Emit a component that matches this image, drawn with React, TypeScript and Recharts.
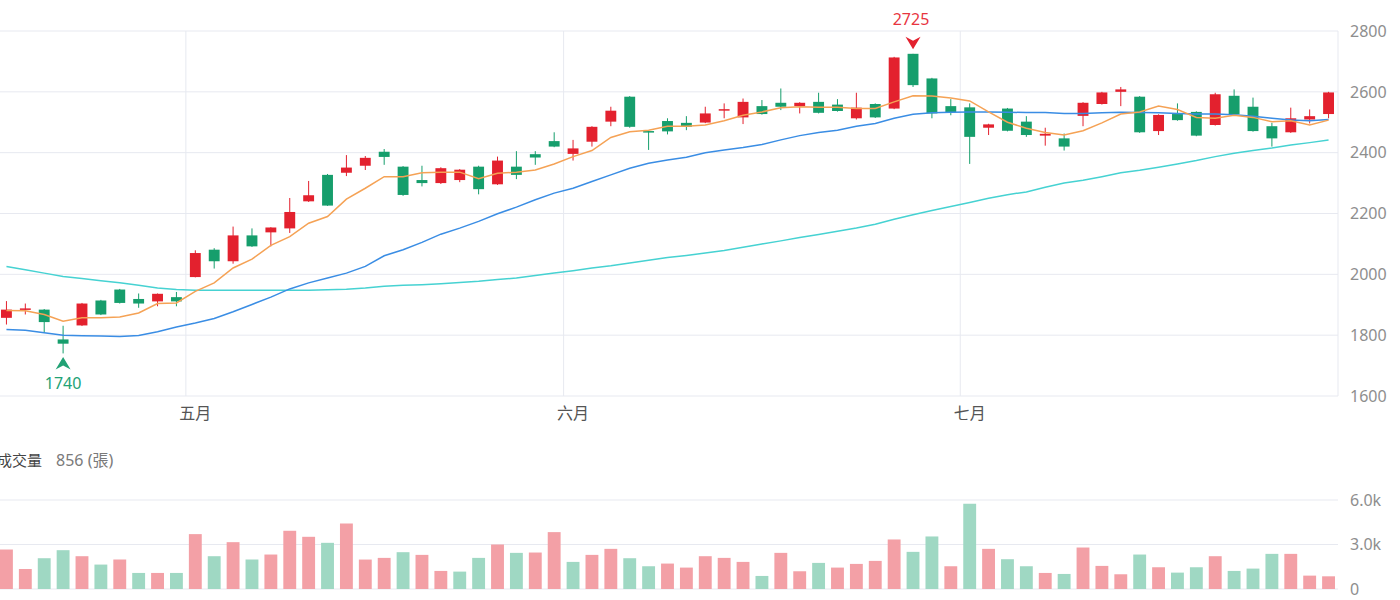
import React from 'react';
import {
  ComposedChart,
  Bar,
  Line,
  XAxis,
  YAxis,
  CartesianGrid,
  ReferenceLine,
  ReferenceDot,
  Cell,
} from 'recharts';

// Daily OHLC (TWD), one entry per trading day
const opens = [
  1857, 1885, 1884, 1786, 1832, 1914, 1950, 1919, 1911, 1925,
  1991, 2081, 2043, 2128, 2138, 2151, 2240, 2327, 2334, 2357,
  2403, 2354, 2310, 2300, 2310, 2354, 2296, 2354, 2395, 2438,
  2396, 2436, 2502, 2584, 2471, 2504, 2498, 2499, 2540, 2516,
  2553, 2564, 2553, 2567, 2558, 2513, 2560, 2545, 2725, 2644,
  2553, 2549, 2482, 2545, 2502, 2456, 2447, 2521, 2560, 2600,
  2584, 2471, 2527, 2534, 2491, 2587, 2551, 2487, 2467, 2509,
  2527,
];
const highs = [
  1912, 1904, 1886, 1831, 1906, 1916, 1952, 1937, 1937, 1942,
  2079, 2086, 2157, 2151, 2155, 2251, 2307, 2330, 2392, 2389,
  2412, 2356, 2357, 2352, 2346, 2357, 2387, 2405, 2405, 2467,
  2442, 2487, 2551, 2586, 2473, 2513, 2520, 2551, 2562, 2578,
  2573, 2611, 2566, 2597, 2576, 2597, 2562, 2715, 2725, 2646,
  2576, 2562, 2495, 2547, 2520, 2482, 2463, 2566, 2600, 2616,
  2586, 2526, 2562, 2536, 2597, 2608, 2581, 2498, 2548, 2542,
  2600,
];
const lows = [
  1835, 1868, 1810, 1740, 1830, 1866, 1904, 1890, 1895, 1895,
  1990, 2019, 2035, 2090, 2092, 2136, 2238, 2225, 2323, 2343,
  2360, 2258, 2289, 2297, 2303, 2263, 2294, 2313, 2360, 2418,
  2374, 2420, 2487, 2482, 2409, 2460, 2474, 2497, 2513, 2494,
  2525, 2540, 2529, 2529, 2535, 2509, 2514, 2543, 2616, 2513,
  2523, 2363, 2458, 2470, 2452, 2423, 2407, 2487, 2558, 2553,
  2465, 2458, 2505, 2454, 2489, 2524, 2469, 2420, 2465, 2496,
  2513,
];
const closes = [
  1884, 1888, 1843, 1772, 1904, 1868, 1906, 1904, 1936, 1911,
  2070, 2043, 2128, 2092, 2154, 2205, 2260, 2226, 2351, 2383,
  2386, 2261, 2300, 2349, 2344, 2280, 2374, 2327, 2384, 2420,
  2414, 2485, 2538, 2485, 2466, 2470, 2485, 2529, 2543, 2567,
  2527, 2551, 2564, 2531, 2537, 2548, 2516, 2713, 2622, 2529,
  2533, 2452, 2493, 2472, 2458, 2462, 2420, 2564, 2598, 2608,
  2467, 2524, 2507, 2456, 2592, 2526, 2471, 2447, 2513, 2520,
  2598,
];

// Moving averages
const ma5 = [
  1881, 1880, 1868, 1846, 1857, 1857, 1860, 1873, 1904, 1906,
  1944, 1972, 2021, 2050, 2095, 2124, 2168, 2190, 2247, 2283,
  2321, 2321, 2334, 2336, 2336, 2314, 2332, 2336, 2343, 2363,
  2387, 2407, 2450, 2469, 2474, 2487, 2487, 2491, 2505, 2523,
  2534, 2548, 2551, 2549, 2549, 2545, 2545, 2567, 2587, 2586,
  2580, 2570, 2534, 2500, 2480, 2466, 2458, 2472, 2498, 2527,
  2534, 2553, 2542, 2516, 2513, 2523, 2516, 2502, 2505, 2491,
  2507,
];
const ma20 = [
  1819, 1816, 1808, 1800, 1798, 1797, 1796, 1799, 1811, 1827,
  1840, 1855, 1877, 1901, 1925, 1952, 1972, 1988, 2004, 2026,
  2061, 2081, 2105, 2132, 2152, 2174, 2199, 2221, 2245, 2267,
  2283, 2305, 2327, 2349, 2365, 2376, 2385, 2400, 2409, 2417,
  2427, 2442, 2456, 2466, 2474, 2487, 2496, 2513, 2526, 2531,
  2533, 2534, 2534, 2533, 2532, 2532, 2529, 2529, 2531, 2533,
  2532, 2531, 2529, 2527, 2527, 2525, 2520, 2513, 2507, 2505,
  2509,
];
const ma60 = [
  2026, 2015, 2004, 1993, 1986, 1979, 1972, 1964, 1955, 1950,
  1948, 1948, 1948, 1948, 1948, 1948, 1948, 1949, 1951, 1955,
  1961, 1964, 1966, 1969, 1973, 1977, 1983, 1988, 1996, 2004,
  2012, 2021, 2028, 2037, 2046, 2055, 2062, 2070, 2078, 2089,
  2100, 2110, 2121, 2131, 2142, 2152, 2165, 2181, 2196, 2210,
  2223, 2236, 2250, 2262, 2271, 2286, 2300, 2309, 2321, 2334,
  2342, 2352, 2363, 2374, 2387, 2398, 2407, 2415, 2425, 2433,
  2442,
];

// Daily volume (張) and its colour direction (u = up day, d = down day)
const volumes = [
  2662, 1354, 2075, 2617, 2211, 1647, 1985, 1083, 1083, 1083,
  3700, 2211, 3158, 1985, 2324, 3925, 3519, 3113, 4422, 1985,
  2098, 2482, 2301, 1218, 1173, 2098, 3000, 2436, 2459, 3835,
  1827, 2301, 2707, 2075, 1534, 1715, 1444, 2211, 2098, 1827,
  880, 2436, 1196, 1760, 1444, 1692, 1895, 3339, 2504, 3542,
  1534, 5753, 2707, 2008, 1534, 1083, 1015, 2797, 1557, 993,
  2324, 1466, 1105, 1466, 2211, 1218, 1376, 2369, 2369, 902,
  856,
];
const volumeDir = [
  'u', 'u', 'd', 'd', 'u', 'd', 'u', 'd', 'u', 'd',
  'u', 'd', 'u', 'd', 'u', 'u', 'u', 'd', 'u', 'u',
  'u', 'd', 'u', 'u', 'd', 'd', 'u', 'd', 'u', 'u',
  'd', 'u', 'u', 'd', 'd', 'u', 'u', 'u', 'u', 'u',
  'd', 'u', 'u', 'd', 'u', 'u', 'u', 'u', 'd', 'd',
  'u', 'd', 'u', 'd', 'd', 'u', 'd', 'u', 'u', 'u',
  'd', 'u', 'd', 'd', 'u', 'd', 'd', 'd', 'u', 'u',
  'u',
];

// First trading day of each month and its label
const monthStarts = [10, 30, 51];
const monthLabels = ['五月', '六月', '七月'];

const priceTicks = [1600, 1800, 2000, 2200, 2400, 2600, 2800];
const volumeTicks = [0, 3000, 6000];

const RED = '#e3212e';
const GREEN = '#169e6c';
const VOL_RED = '#f3a0a6';
const VOL_GREEN = '#9fd8c3';
const GRID = '#e7e9f0';
const AXIS_TEXT = '#8e8e8e';
const NUM_FONT = "'Noto Sans', 'Noto Sans CJK TC', sans-serif";
const CJK_FONT = "'Noto Sans CJK TC', 'Noto Sans', sans-serif";

const rows = opens.map((open, i) => ({
  day: i,
  open,
  high: highs[i],
  low: lows[i],
  close: closes[i],
  range: [lows[i], highs[i]],
  ma5: ma5[i],
  ma20: ma20[i],
  ma60: ma60[i],
  volume: volumes[i],
  volUp: volumeDir[i] === 'u',
}));

let hiIdx = 0;
let loIdx = 0;
rows.forEach((r, i) => {
  if (r.high > rows[hiIdx].high) hiIdx = i;
  if (r.low < rows[loIdx].low) loIdx = i;
});
const hiVal = rows[hiIdx].high;
const loVal = rows[loIdx].low;

const Candle = (props: any) => {
  const { x, y, width, height, payload } = props;
  if (x == null || y == null || !payload) return null;
  const top = Math.min(y, y + height);
  const bottom = Math.max(y, y + height);
  const { open, close, high, low } = payload;
  const span = high - low || 1;
  const toY = (v: number) => bottom - ((v - low) / span) * (bottom - top);
  const color = close >= open ? RED : GREEN;
  const cx = x + width / 2;
  const bodyTop = toY(Math.max(open, close));
  const bodyBottom = toY(Math.min(open, close));
  const bodyH = Math.max(bodyBottom - bodyTop, 1.5);
  return (
    <g>
      <line x1={cx} x2={cx} y1={top} y2={bottom} stroke={color} strokeWidth={1} />
      <rect x={x} y={bodyTop} width={width} height={bodyH} fill={color} />
    </g>
  );
};

const HighMarker = (props: any) => {
  const { cx, cy } = props;
  if (cx == null || cy == null) return null;
  const tip = cy - 4.5;
  return (
    <g>
      <polygon
        points={`${cx},${tip} ${cx - 7.5},${tip - 12.5} ${cx},${tip - 8.5} ${cx + 7.5},${tip - 12.5}`}
        fill={RED}
      />
      <text
        x={cx - 2}
        y={cy - 28.5}
        textAnchor="middle"
        fontSize={16}
        fontFamily={NUM_FONT}
        fill="#e8353f"
      >
        {hiVal}
      </text>
    </g>
  );
};

const LowMarker = (props: any) => {
  const { cx, cy } = props;
  if (cx == null || cy == null) return null;
  const tip = cy + 3.5;
  return (
    <g>
      <polygon
        points={`${cx},${tip} ${cx + 7.5},${tip + 12.5} ${cx},${tip + 8.5} ${cx - 7.5},${tip + 12.5}`}
        fill="#22a275"
      />
      <text
        x={cx}
        y={cy + 35.5}
        textAnchor="middle"
        fontSize={16}
        fontFamily={NUM_FONT}
        fill="#22a275"
      >
        {loVal}
      </text>
    </g>
  );
};

const monthOf = (v: any) => {
  const k = monthStarts.indexOf(Number(v));
  return k >= 0 ? monthLabels[k] : '';
};

const formatVolume = (v: number) => (v === 0 ? '0' : `${(v / 1000).toFixed(1)}k`);

export default function App() {
  return (
    <div style={{ position: 'absolute', left: 0, top: 0, width: 1400, height: 600, overflow: 'hidden', background: '#fff' }}>
      <div style={{ position: 'absolute', left: -3, top: 0 }}>
        <ComposedChart
          width={1403}
          height={430}
          data={rows}
          margin={{ top: 31, right: 0, bottom: 0, left: 0 }}
        >
          <CartesianGrid stroke={GRID} vertical={false} />
          <XAxis
            dataKey="day"
            interval={0}
            height={34}
            axisLine={false}
            tickLine={false}
            tickSize={6}
            tickMargin={6}
            tickFormatter={monthOf}
            tick={{ fontSize: 16, fill: '#555', fontFamily: CJK_FONT }}
          />
          <YAxis
            orientation="right"
            width={62}
            domain={[1600, 2800]}
            ticks={priceTicks}
            axisLine={{ stroke: GRID }}
            tickLine={false}
            tickSize={6}
            tickMargin={6}
            tick={{ fontSize: 16, fill: AXIS_TEXT, fontFamily: NUM_FONT }}
          />
          {monthStarts.map((d) => (
            <ReferenceLine key={d} x={d} position="start" stroke={GRID} />
          ))}
          <Line dataKey="ma60" stroke="#46d2d2" strokeWidth={1.5} dot={false} activeDot={false} isAnimationActive={false} />
          <Line dataKey="ma20" stroke="#3a8de4" strokeWidth={1.5} dot={false} activeDot={false} isAnimationActive={false} />
          <Line dataKey="ma5" stroke="#f5a255" strokeWidth={1.5} dot={false} activeDot={false} isAnimationActive={false} />
          <Bar dataKey="range" barSize={10.88} shape={<Candle />} isAnimationActive={false} />
          <ReferenceDot x={hiIdx} y={hiVal} r={0} shape={(p: any) => <HighMarker {...p} />} />
          <ReferenceDot x={loIdx} y={loVal} r={0} shape={(p: any) => <LowMarker {...p} />} />
        </ComposedChart>
      </div>

      <div
        style={{
          position: 'absolute',
          left: -3,
          top: 449,
          fontSize: 15,
          lineHeight: '20px',
          fontFamily: CJK_FONT,
          color: '#444',
          whiteSpace: 'nowrap',
        }}
      >
        成交量
        <span style={{ marginLeft: 14, fontSize: 16, color: '#7a7a7a', fontFamily: NUM_FONT }}>
          {volumes[volumes.length - 1]} (<span style={{ fontFamily: CJK_FONT }}>張</span>)
        </span>
      </div>

      <div style={{ position: 'absolute', left: -3, top: 480 }}>
        <ComposedChart
          width={1403}
          height={120}
          data={rows}
          margin={{ top: 20, right: 0, bottom: 11, left: 0 }}
        >
          <CartesianGrid stroke={GRID} vertical={false} />
          <XAxis dataKey="day" hide />
          <YAxis
            orientation="right"
            width={62}
            domain={[0, 6000]}
            ticks={volumeTicks}
            axisLine={false}
            tickLine={false}
            tickSize={6}
            tickMargin={6}
            tickFormatter={formatVolume}
            tick={{ fontSize: 16, fill: AXIS_TEXT, fontFamily: NUM_FONT }}
          />
          <Bar dataKey="volume" barSize={12.88} isAnimationActive={false}>
            {rows.map((r) => (
              <Cell key={r.day} fill={r.volUp ? VOL_RED : VOL_GREEN} />
            ))}
          </Bar>
        </ComposedChart>
      </div>
    </div>
  );
}
